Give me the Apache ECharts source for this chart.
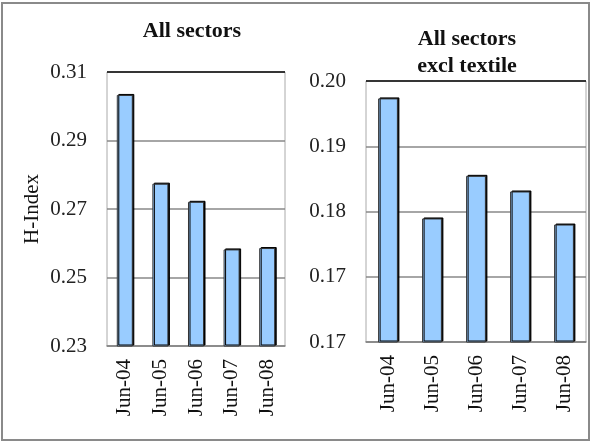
<!DOCTYPE html>
<html>
<head>
<meta charset="utf-8">
<script src="https://cdn.jsdelivr.net/npm/echarts@6/dist/echarts.min.js"></script>
<style>
  html, body { margin: 0; padding: 0; background: #fff; }
  #chart { width: 592px; height: 443px; }
</style>
</head>
<body>
<div id="chart"></div>
<script>
const categories = ['Jun-04', 'Jun-05', 'Jun-06', 'Jun-07', 'Jun-08'];
const allSectors = [0.3033, 0.2774, 0.2721, 0.2582, 0.2586];
const exclTextile = [0.1930, 0.1792, 0.1841, 0.1823, 0.1785];
const leftTicks = ['0.23', '0.25', '0.27', '0.29', '0.31'];
const rightTicks = ['0.17', '0.17', '0.18', '0.19', '0.20'];

const serif = '"Liberation Serif", "Times New Roman", serif';

const myChart = echarts.init(document.getElementById('chart'));

// bottom-to-top split lines: grey, top one black
const splitColors = ['#888', '#888', '#888', '#888', '#000'];

const xAxisBase = (gridIndex) => ({
  type: 'category',
  gridIndex,
  data: categories,
  axisTick: { show: false },
  axisLine: { lineStyle: { color: '#888', width: 1.5 } },
  axisLabel: { rotate: 90, margin: 13, color: '#111', fontFamily: serif, fontSize: 21 }
});

const yAxisBase = (gridIndex, min, interval, ticks) => ({
  type: 'value',
  gridIndex,
  min,
  max: min + interval * 4,
  interval,
  axisLine: { show: false },
  axisTick: { show: false },
  splitLine: { lineStyle: { color: splitColors, width: 1.5 } },
  axisLabel: {
    margin: 20,
    color: '#222',
    fontFamily: serif,
    fontSize: 21,
    formatter: (v) => ticks[Math.round((v - min) / interval)]
  }
});

const barStyle = {
  color: '#99ccff',
  borderColor: '#333',
  borderWidth: 1,
  shadowColor: '#000',
  shadowOffsetX: 1.5,
  shadowOffsetY: -1,
  shadowBlur: 0
};

const option = {
  animation: false,
  title: [
    {
      text: 'All sectors',
      left: 187,
      top: 15,
      textAlign: 'center',
      textStyle: { fontFamily: serif, fontWeight: 'bold', fontSize: 22, color: '#111' }
    },
    {
      text: 'All sectors\nexcl textile',
      left: 462,
      top: 21,
      textAlign: 'center',
      textStyle: { fontFamily: serif, fontWeight: 'bold', fontSize: 22, lineHeight: 27, color: '#111' }
    }
  ],
  grid: [
    { left: 107, top: 72, width: 178, height: 274, show: true, borderColor: '#aaa', borderWidth: 1 },
    { left: 366, top: 81, width: 220, height: 261, show: true, borderColor: '#aaa', borderWidth: 1 }
  ],
  xAxis: [xAxisBase(0), xAxisBase(1)],
  yAxis: [
    {
      ...yAxisBase(0, 0.23, 0.02, leftTicks),
      name: 'H-Index',
      nameLocation: 'middle',
      nameRotate: 90,
      nameGap: 64,
      nameTextStyle: { fontFamily: serif, fontSize: 21, color: '#111' }
    },
    yAxisBase(1, 0.165, 0.0075, rightTicks)
  ],
  series: [
    {
      type: 'bar',
      xAxisIndex: 0,
      yAxisIndex: 0,
      data: allSectors,
      barWidth: '45%',
      itemStyle: barStyle,
      emphasis: { disabled: true }
    },
    {
      type: 'bar',
      xAxisIndex: 1,
      yAxisIndex: 1,
      data: exclTextile,
      barWidth: '45%',
      itemStyle: barStyle,
      emphasis: { disabled: true }
    }
  ],
  graphic: [
    {
      type: 'rect',
      shape: { x: 2, y: 3, width: 587, height: 437 },
      style: { fill: 'none', stroke: '#8a8a8a', lineWidth: 2 },
      silent: true
    }
  ]
};

myChart.setOption(option);
</script>
</body>
</html>
